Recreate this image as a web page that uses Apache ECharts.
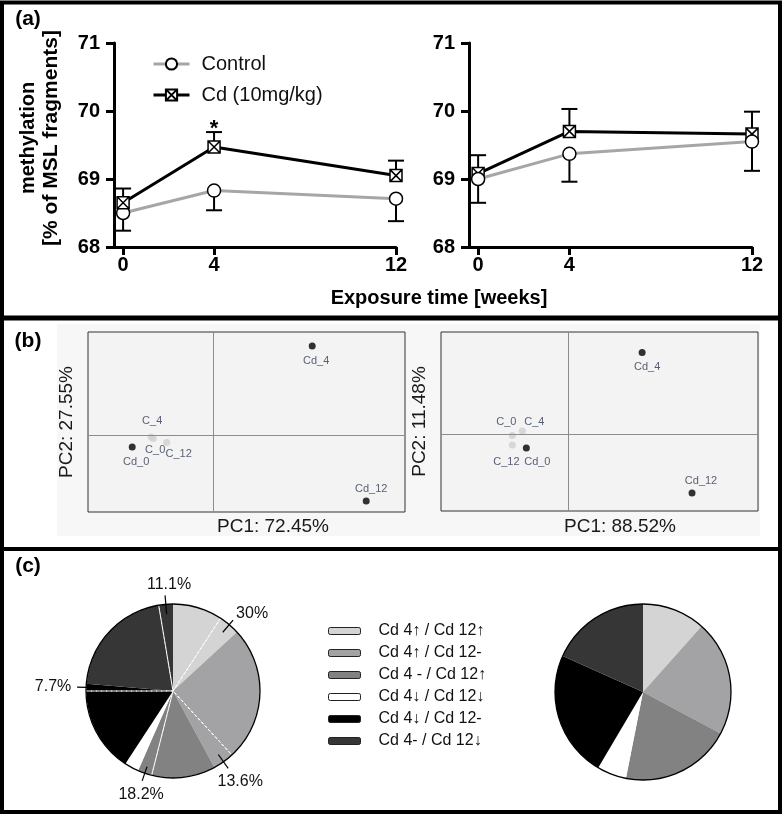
<!DOCTYPE html>
<html><head><meta charset="utf-8">
<script src="https://cdn.jsdelivr.net/npm/echarts@6/dist/echarts.min.js"></script>
<style>html,body{margin:0;padding:0;background:#fff}#c{width:784px;height:817px}</style>
</head><body><div id="c"></div>
<script>
// ---------------- DATA ----------------
const weeks = [0, 4, 12];
const ctrlLeft = [68.50, 68.83, 68.71];
const ctrlLeftErr = [0.26, 0.29, 0.33];
const cdLeft = [68.65, 69.47, 69.05];
const cdLeftErr = [0.21, 0.22, 0.22];
const cdLeftSig = ['', '*', ''];
const ctrlRight = [69.00, 69.37, 69.55];
const ctrlRightErr = [0.35, 0.41, 0.43];
const cdRight = [69.08, 69.70, 69.66];
const cdRightErr = [0.27, 0.33, 0.33];
const cdRightSig = ['', '', ''];
const seriesNames = ['Control', 'Cd (10mg/kg)'];
const yAxisTitle = ['methylation', '[% of MSL fragments]'];
const xAxisTitle = 'Exposure time [weeks]';

const pcaNames = ['C_0', 'C_4', 'C_12', 'Cd_0', 'Cd_4', 'Cd_12'];
const pcaLeftPC1 = [-1.21, -1.25, -0.94, -1.63, 1.97, 3.05];
const pcaLeftPC2 = [-0.07, -0.04, -0.15, -0.24, 1.78, -1.32];
const pcaRightPC1 = [-1.11, -0.91, -1.11, -0.83, 1.49, 2.49];
const pcaRightPC2 = [-0.03, 0.06, -0.22, -0.28, 1.63, -1.18];
const pcaLeftTitles = ['PC1: 72.45%', 'PC2: 27.55%'];
const pcaRightTitles = ['PC1: 88.52%', 'PC2: 11.48%'];

const pieCategories = ['Cd 4\u2191 / Cd 12\u2191', 'Cd 4\u2191 / Cd 12-', 'Cd 4 - / Cd 12\u2191', 'Cd 4\u2193 / Cd 12\u2193', 'Cd 4\u2193 / Cd 12-', 'Cd 4- / Cd 12\u2193'];
const pieLeftCounts = [10, 22, 11, 2, 13, 18];
const pieLeftSubCounts = [3, 3, 2, 0, 1, 2];
const pieRightShares = [11.6, 21.2, 20.3, 5.4, 23.2, 18.3];

// ---------------- STYLE / LAYOUT ----------------
const FONT = '"Liberation Sans", Arial, sans-serif';
const pieColors = ['#d4d4d4', '#a3a3a6', '#828282', '#ffffff', '#000000', '#363636'];
const pcaLeftLabelOffsets = [[2, 11.5], [1, -16], [12, 11], [4, 15], [4, 15], [5, -12]];
const pcaRightLabelOffsets = [[-6, -14], [12, -9], [-6, 17], [11, 14], [5, 14], [9, -12]];
const pieLeftCenter = [173, 691], pieLeftR = 87;
const pieRightCenter = [643, 692], pieRightR = 88;
const pieLabelGeom = [
  {r0: 77, r1: 93, off: [19, -6.5]},
  {r0: 78, r1: 95, off: [12, 13]},
  {r0: 80, r1: 95, off: [-1, 14]},
  null,
  {r0: 87, r1: 96, off: [-24, 0]},
  {r0: 77, r1: 96, off: [4, -11]}
];

const chart = echarts.init(document.getElementById('c'), null, {renderer: 'canvas'});

// ---- panel (a) helpers ----
function lineAxes(gridIndex) {
  return {
    x: {
      type: 'value', gridIndex, min: -0.4, max: 12,
      axisLine: {show: true, onZero: false, lineStyle: {color: '#000', width: 3}},
      axisTick: {show: true, customValues: weeks, length: 8, lineStyle: {color: '#000', width: 3}},
      axisLabel: {customValues: weeks, margin: 8, fontSize: 20, fontWeight: 'bold', color: '#000', fontFamily: FONT},
      splitLine: {show: false}
    },
    y: {
      type: 'value', gridIndex, min: 68, max: 71, interval: 1,
      axisLine: {show: true, onZero: false, lineStyle: {color: '#000', width: 3}},
      axisTick: {show: true, length: 8, lineStyle: {color: '#000', width: 3}},
      axisLabel: {margin: 14, fontSize: 20, fontWeight: 'bold', color: '#000', fontFamily: FONT},
      splitLine: {show: false}
    }
  };
}
const CD_SYMBOL = 'path://M0,0H10V10H0Z M0,0L10,10 M10,0L0,10';
function lineSeries(name, vals, axisIdx, isCd, z) {
  return {
    type: 'line', name, xAxisIndex: axisIdx, yAxisIndex: axisIdx, z,
    data: weeks.map((w, i) => [w, vals[i]]),
    symbol: isCd ? CD_SYMBOL : 'circle',
    symbolSize: isCd ? 12 : 13,
    showAllSymbol: true,
    lineStyle: {color: isCd ? '#000' : '#a6a6a6', width: 3},
    itemStyle: {color: '#fff', borderColor: '#000', borderWidth: 1.5},
    emphasis: {disabled: true}, silent: true
  };
}
function errSeries(vals, errs, dir, sig, axisIdx) {
  return {
    type: 'custom', xAxisIndex: axisIdx, yAxisIndex: axisIdx, z: 1, silent: true,
    data: weeks.map((w, i) => [w, vals[i], errs[i], dir]),
    renderItem(params, api) {
      const x = api.value(0), y = api.value(1), e = api.value(2), d = api.value(3);
      const p0 = api.coord([x, y]);
      const p1 = api.coord([x, y + d * e]);
      const ch = [
        {type: 'line', shape: {x1: p0[0], y1: p0[1], x2: p1[0], y2: p1[1]}, style: {stroke: '#000', lineWidth: 2}},
        {type: 'line', shape: {x1: p1[0] - 8, y1: p1[1], x2: p1[0] + 8, y2: p1[1]}, style: {stroke: '#000', lineWidth: 2}}
      ];
      const s = sig[params.dataIndex];
      if (s) ch.push({type: 'text', x: p1[0], y: p1[1] - 3,
        style: {text: s, fontSize: 22, fontWeight: 'bold', fontFamily: FONT, fill: '#000', align: 'center', verticalAlign: 'middle'}});
      return {type: 'group', children: ch};
    }
  };
}

// ---- panel (b) helpers ----
function pcaAxes(gridIndex, xr, yr, yName) {
  return {
    x: {type: 'value', gridIndex, min: xr[0], max: xr[1], axisLine: {show: false}, axisTick: {show: false}, axisLabel: {show: false}, splitLine: {show: false}},
    y: {type: 'value', gridIndex, min: yr[0], max: yr[1], axisLine: {show: false}, axisTick: {show: false}, axisLabel: {show: false}, splitLine: {show: false},
        name: yName, nameLocation: 'middle', nameGap: 12, nameRotate: 90,
        nameTextStyle: {fontSize: 19, color: '#1a1a1a', fontFamily: FONT}}
  };
}
function pcaSeries(pc1, pc2, offsets, axisIdx) {
  return {
    type: 'scatter', xAxisIndex: axisIdx, yAxisIndex: axisIdx, silent: true, z: 3,
    symbolSize: 7,
    data: pcaNames.map((n, i) => ({
      name: n, value: [pc1[i], pc2[i]],
      itemStyle: {color: n.startsWith('Cd') ? '#000' : '#d0d0d0'},
      label: {offset: offsets[i]}
    })),
    label: {show: true, position: 'inside', formatter: '{b}', fontSize: 11, color: '#2f3a52', fontFamily: FONT},
    emphasis: {disabled: true},
    markLine: {
      silent: true, symbol: ['none', 'none'], label: {show: false},
      lineStyle: {color: '#8c8c8c', width: 1, type: 'solid'},
      data: [{xAxis: 0}, {yAxis: 0}],
      animation: false
    }
  };
}

// ---- panel (c) helpers ----
const sum = a => a.reduce((s, v) => s + v, 0);
function pieBase(center, r, data, z, extra) {
  return Object.assign({
    type: 'pie', center, radius: r, startAngle: 90, clockwise: true, z,
    silent: true, label: {show: false}, labelLine: {show: false},
    emphasis: {disabled: true}, avoidLabelOverlap: false, minAngle: 0,
    data
  }, extra || {});
}
const leftTotal = sum(pieLeftCounts);
const dashBounds = [];
{
  let cum = 0;
  pieLeftCounts.forEach((c, i) => { cum += c; if (pieLeftSubCounts[i] > 0) dashBounds.push(cum - pieLeftSubCounts[i]); });
}
const dashSegs = dashBounds.map((b, i) => i < dashBounds.length - 1 ? dashBounds[i + 1] - b : leftTotal - b + dashBounds[0]);

// labels & leader lines for subfractions (computed from data)
const pieGraphics = [];
{
  let cum = 0;
  pieLeftCounts.forEach((c, i) => {
    cum += c;
    const s = pieLeftSubCounts[i];
    if (!s || !pieLabelGeom[i]) return;
    const g = pieLabelGeom[i];
    const ang = (cum - s / 2) / leftTotal * 2 * Math.PI;
    const dx = Math.sin(ang), dy = -Math.cos(ang);
    const a = [pieLeftCenter[0] + dx * g.r0, pieLeftCenter[1] + dy * g.r0];
    const b = [pieLeftCenter[0] + dx * g.r1, pieLeftCenter[1] + dy * g.r1];
    const pct = +(s / c * 100).toFixed(1);
    pieGraphics.push({type: 'line', z: 50, shape: {x1: a[0], y1: a[1], x2: b[0], y2: b[1]}, style: {stroke: '#000', lineWidth: 1.2}});
    pieGraphics.push({type: 'text', z: 50, x: b[0] + g.off[0], y: b[1] + g.off[1],
      style: {text: pct + '%', fontSize: 16, fontFamily: FONT, fill: '#111', align: 'center', verticalAlign: 'middle'}});
  });
}

const aL = lineAxes(0), aR = lineAxes(1);
const bL = pcaAxes(2, [-2.514, 3.826], [-1.54, 2.06], pcaLeftTitles[1]);
const bR = pcaAxes(3, [-2.54, 3.812], [-1.54, 2.04], pcaRightTitles[1]);

function txt(x, y, text, size, weight, fill) {
  return {type: 'text', x, y, z: 60,
    style: {text, fontSize: size, fontWeight: weight || 'normal', fontFamily: FONT, fill: fill || '#000', align: 'center', verticalAlign: 'middle'}};
}

const option = {
  animation: false,
  backgroundColor: '#fff',
  textStyle: {fontFamily: FONT},
  grid: [
    {left: 114, top: 43, width: 282, height: 204},
    {left: 469, top: 43, width: 283, height: 204},
    {left: 88, top: 332, width: 317, height: 180, show: true, borderColor: '#333', borderWidth: 1, backgroundColor: '#f3f3f3'},
    {left: 441, top: 332, width: 317, height: 179, show: true, borderColor: '#333', borderWidth: 1, backgroundColor: '#f3f3f3'}
  ],
  xAxis: [aL.x, aR.x, bL.x, bR.x],
  yAxis: [aL.y, aR.y, bL.y, bR.y],
  legend: [
    {data: seriesNames, orient: 'vertical', left: 152, top: 54, padding: 0, itemWidth: 36, itemHeight: 14, itemGap: 11,
     lineStyle: {width: 3},
     selectedMode: false, textStyle: {fontSize: 20, color: '#111', fontFamily: FONT, padding: [0, 0, 0, 7], lineHeight: 20}},
    {data: pieCategories, orient: 'vertical', left: 328, top: 623, padding: 0, icon: 'roundRect', itemWidth: 32, itemHeight: 7, itemGap: 6,
     selectedMode: false, itemStyle: {borderColor: '#222', borderWidth: 1},
     textStyle: {fontSize: 16, color: '#111', fontFamily: FONT, padding: [0, 0, 0, 13], lineHeight: 16}}
  ],
  series: [
    errSeries(ctrlLeft, ctrlLeftErr, -1, ['', '', ''], 0),
    errSeries(cdLeft, cdLeftErr, 1, cdLeftSig, 0),
    lineSeries(seriesNames[0], ctrlLeft, 0, false, 2),
    lineSeries(seriesNames[1], cdLeft, 0, true, 3),
    errSeries(ctrlRight, ctrlRightErr, -1, ['', '', ''], 1),
    errSeries(cdRight, cdRightErr, 1, cdRightSig, 1),
    lineSeries(seriesNames[1], cdRight, 1, true, 2),
    lineSeries(seriesNames[0], ctrlRight, 1, false, 3),
    pcaSeries(pcaLeftPC1, pcaLeftPC2, pcaLeftLabelOffsets, 2),
    pcaSeries(pcaRightPC1, pcaRightPC2, pcaRightLabelOffsets, 3),
    pieBase(pieLeftCenter, pieLeftR, pieCategories.map((n, i) => ({name: n, value: pieLeftCounts[i], itemStyle: {color: pieColors[i]}})), 2),
    pieBase(pieLeftCenter, pieLeftR, dashSegs.map((v, i) => ({name: 'sub' + i, value: v})), 3, {
      startAngle: 90 - dashBounds[0] / leftTotal * 360,
      itemStyle: {color: 'rgba(0,0,0,0)', borderColor: '#fff', borderWidth: 1, borderType: [3, 2]}
    }),
    pieBase(pieLeftCenter, pieLeftR, [{name: 'outlineL', value: 1}], 4, {
      itemStyle: {color: 'rgba(0,0,0,0)', borderColor: '#000', borderWidth: 1.3}
    }),
    pieBase(pieRightCenter, pieRightR, pieCategories.map((n, i) => ({name: n, value: pieRightShares[i], itemStyle: {color: pieColors[i]}})), 2),
    pieBase(pieRightCenter, pieRightR, [{name: 'outlineR', value: 1}], 4, {
      itemStyle: {color: 'rgba(0,0,0,0)', borderColor: '#000', borderWidth: 1.3}
    })
  ],
  graphic: [
    {type: 'rect', z: -100, shape: {x: 57, y: 324, width: 703, height: 212}, style: {fill: '#f7f7f7'}},
    txt(28, 19, '(a)', 21, 'bold'),
    txt(28, 341, '(b)', 21, 'bold'),
    txt(28, 566, '(c)', 21, 'bold'),
    txt(439, 298, xAxisTitle, 20, 'bold'),
    {type: 'text', x: 40, y: 138, rotation: Math.PI / 2, z: 60,
     style: {text: '{a|' + yAxisTitle[0] + '}\n{b|' + yAxisTitle[1] + '}', align: 'center', verticalAlign: 'middle', fill: '#000',
       rich: {a: {fontSize: 20, fontWeight: 'bold', fontFamily: FONT, lineHeight: 23, fill: '#000'},
              b: {fontSize: 21, fontWeight: 'bold', fontFamily: FONT, lineHeight: 23, fill: '#000'}}}},
    txt(273, 527, pcaLeftTitles[0], 19, 'normal', '#1a1a1a'),
    txt(620, 527, pcaRightTitles[0], 19, 'normal', '#1a1a1a'),
    ...pieGraphics,
    {type: 'rect', z: 100, shape: {x: 2, y: 2.5, width: 778, height: 809.5}, style: {fill: 'none', stroke: '#000', lineWidth: 4}},
    {type: 'line', z: 100, shape: {x1: 2, y1: 318, x2: 780, y2: 318}, style: {stroke: '#000', lineWidth: 5}},
    {type: 'line', z: 100, shape: {x1: 2, y1: 549, x2: 780, y2: 549}, style: {stroke: '#000', lineWidth: 4}}
  ]
};
chart.setOption(option);
</script>
</body></html>
